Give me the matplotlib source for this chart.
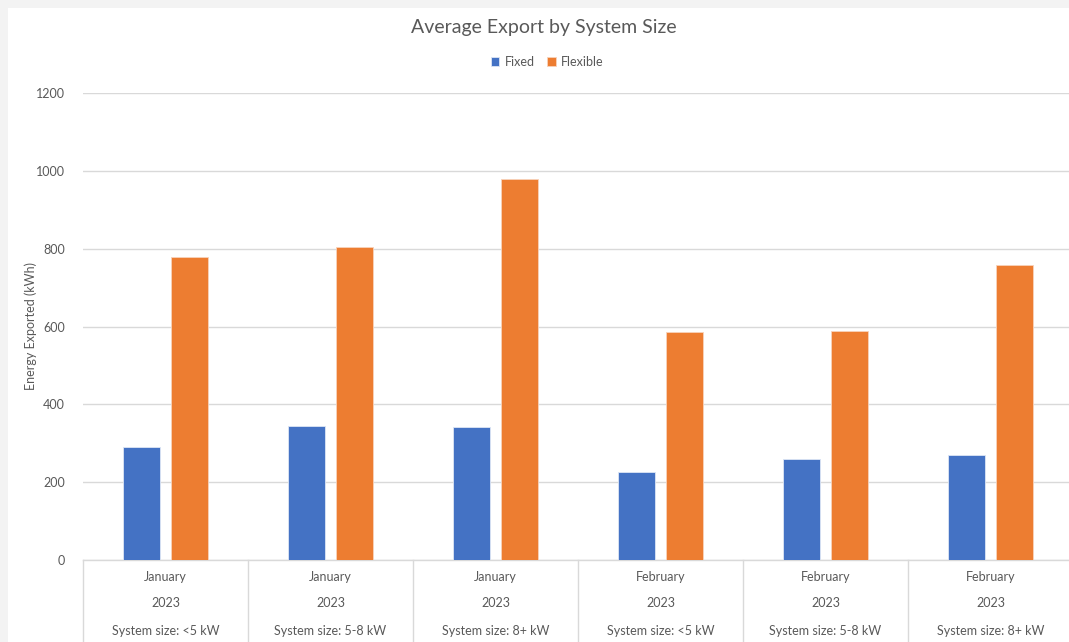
import matplotlib.pyplot as plt
from matplotlib.patches import Rectangle
import numpy as np

plt.rcParams['font.family'] = ['Lato', 'DejaVu Sans']

# Datos por categoría
months = ["January", "January", "January", "February", "February", "February"]
years = ["2023"] * 6
sizes = ["System size: <5 kW", "System size: 5-8 kW", "System size: 8+ kW",
         "System size: <5 kW", "System size: 5-8 kW", "System size: 8+ kW"]
fixed = [290, 344, 342, 226, 260, 270]
flexible = [778, 804, 979, 586, 588, 758]
yticks = [0, 200, 400, 600, 800, 1000, 1200]

blue = "#4472C4"
orange = "#ED7D31"
txt = "#595959"
grid = "#D9D9D9"

fig = plt.figure(figsize=(10.69, 6.42), dpi=100)
fig.patch.set_facecolor("#F3F3F3")
# fondo blanco del gráfico
fig.patches.append(Rectangle((8 / 1069, 0), 1, 1 - 8 / 642, transform=fig.transFigure,
                             facecolor="white", edgecolor="none", zorder=-5))

ax = fig.add_axes([83 / 1069, 82 / 642, 990 / 1069, 467 / 642])
ax.set_facecolor("none")

x = np.arange(len(months))
w = 0.224
ax.bar(x - 0.145, fixed, w, color=blue, edgecolor="#DDE6F5", linewidth=0.6, label="Fixed", zorder=3)
ax.bar(x + 0.145, flexible, w, color=orange, edgecolor="#F8D3BB", linewidth=0.6, label="Flexible", zorder=3)

ax.set_xlim(-0.5, len(months) - 0.5)
ax.set_ylim(0, 1200)
ax.set_yticks(yticks)
ax.set_yticklabels([str(v) for v in yticks], color=txt, fontsize=9)
ax.tick_params(axis="y", length=0, pad=13)
ax.tick_params(axis="x", length=0, labelbottom=False)
ax.yaxis.grid(True, color=grid, linewidth=1)
ax.set_axisbelow(True)
for s in ["top", "right", "left"]:
    ax.spines[s].set_visible(False)
ax.spines["bottom"].set_color(grid)
ax.spines["bottom"].set_linewidth(1)

# Eje de categorías de varios niveles
trans = ax.get_xaxis_transform()
for b in np.arange(-0.5, len(months), 1.0):
    ax.plot([b, b], [0, -0.18], transform=trans, color=grid, linewidth=1, clip_on=False)
for i in range(len(months)):
    ax.text(i, -0.037, months[i], transform=trans, ha="center", va="center", fontsize=9, color=txt)
    ax.text(i, -0.093, years[i], transform=trans, ha="center", va="center", fontsize=9, color=txt)
    ax.text(i, -0.151, sizes[i], transform=trans, ha="center", va="center", fontsize=9, color=txt)

ax.set_ylabel("Energy Exported (kWh)", color=txt, fontsize=9)
ax.yaxis.set_label_coords(-46 / 990, 0.5)

fig.text(544 / 1069, 1 - 28 / 642, "Average Export by System Size", ha="center", va="center",
         fontsize=14, color=txt)
fig.legend(loc="center", bbox_to_anchor=(547 / 1069, 1 - 62 / 642), ncol=2, frameon=False,
           fontsize=9, handlelength=0.7, handleheight=0.7, columnspacing=1.0, handletextpad=0.4,
           labelcolor=txt)

fig.savefig("out.png", dpi=100)
